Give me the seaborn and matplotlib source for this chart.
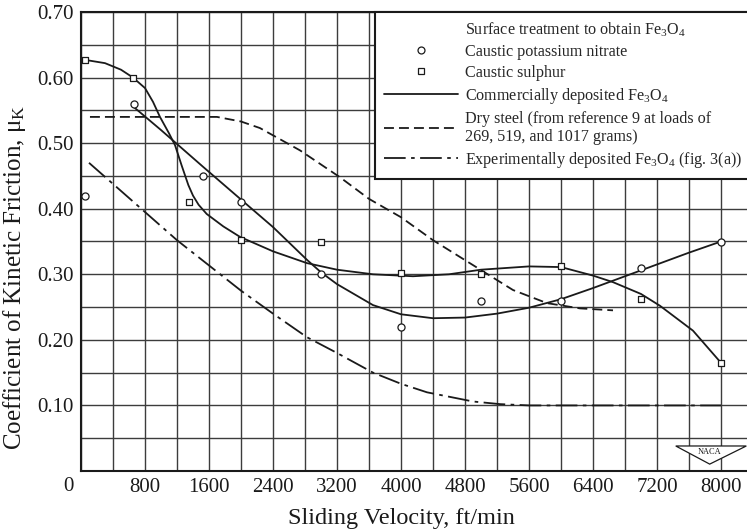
import numpy as np
import pandas as pd
import matplotlib
matplotlib.use("Agg")
import matplotlib.pyplot as plt
import seaborn as sns
from matplotlib.lines import Line2D
from matplotlib.patches import Polygon

# ---------------- data ----------------
kno3_x = [50, 660, 1525, 2000, 3000, 4000, 5000, 6000, 7000, 8000]
kno3_y = [0.42, 0.56, 0.45, 0.41, 0.30, 0.22, 0.26, 0.26, 0.31, 0.35]

sulph_x = [50, 650, 1350, 2000, 3000, 4000, 5000, 6000, 7000, 8000]
sulph_y = [0.627, 0.60, 0.41, 0.352, 0.35, 0.302, 0.30, 0.313, 0.262, 0.165]

# commercially deposited curve through circles
curve_a_x = [660, 1000, 1525, 2000, 2400, 2825, 3000, 3200, 3650, 4000, 4400,
             4800, 5200, 5600, 6000, 6400, 6800, 7200, 7600, 8000]
curve_a_y = [0.555, 0.52, 0.464, 0.414, 0.372, 0.322, 0.303, 0.285, 0.253, 0.239,
             0.233, 0.234, 0.240, 0.249, 0.262, 0.279, 0.297, 0.315, 0.333, 0.35]

# commercially deposited curve through squares
curve_b_x = [50, 300, 500, 650, 800, 900, 987, 1100, 1175, 1258, 1342, 1400, 1470,
             1571, 1779, 1988, 2400, 2825, 3200, 3650, 4150, 4600, 5000, 5600, 6000,
             6400, 6650, 7000, 7237, 7650, 8000]
curve_b_y = [0.627, 0.622, 0.612, 0.60, 0.584, 0.563, 0.54, 0.515, 0.497, 0.466,
             0.436, 0.420, 0.406, 0.392, 0.373, 0.357, 0.335, 0.317, 0.307, 0.30,
             0.297, 0.30, 0.307, 0.312, 0.311, 0.298, 0.288, 0.27, 0.252, 0.214, 0.165]

# dry steel
dry_x = [112, 800, 1200, 1700, 2000, 2237, 2737, 3237, 3600, 4000, 4400, 4900,
         5400, 5825, 6237, 6650]
dry_y = [0.54, 0.54, 0.54, 0.54, 0.533, 0.523, 0.489, 0.448, 0.415, 0.387, 0.352,
         0.314, 0.276, 0.256, 0.248, 0.245]

# experimentally deposited
exp_x = [100, 1200, 2000, 2400, 2825, 3200, 3650, 4000, 4325, 4900, 5237, 5600, 8000]
exp_y = [0.47, 0.352, 0.275, 0.24, 0.204, 0.18, 0.15, 0.133, 0.12, 0.106, 0.102,
         0.10, 0.10]

x_ticks = [0, 800, 1600, 2400, 3200, 4000, 4800, 5600, 6400, 7200, 8000]
y_ticks = [0.10, 0.20, 0.30, 0.40, 0.50, 0.60, 0.70]

# ---------------- style ----------------
sns.set_theme(style="white")
plt.rcParams["font.family"] = ["Liberation Serif", "DejaVu Serif"]
plt.rcParams["mathtext.fontset"] = "custom"
plt.rcParams["mathtext.rm"] = "Liberation Serif"
plt.rcParams["mathtext.it"] = "Liberation Serif:italic"
plt.rcParams["mathtext.default"] = "rm"

INK = "#1a1a1a"
GRID = "#3c3c3c"

fig = plt.figure(figsize=(7.47, 5.31), dpi=100)
ax = fig.add_axes([81 / 747, 60 / 531, 666 / 747, 459 / 531])

lw = 1.3
sns.lineplot(x=curve_a_x, y=curve_a_y, ax=ax, color=INK, lw=lw, estimator=None, zorder=3)
sns.lineplot(x=curve_b_x, y=curve_b_y, ax=ax, color=INK, lw=lw, estimator=None, zorder=3)
sns.lineplot(x=dry_x, y=dry_y, ax=ax, color=INK, lw=lw, estimator=None,
             linestyle=(0, (5.5, 2.8)), zorder=3)
sns.lineplot(x=exp_x, y=exp_y, ax=ax, color=INK, lw=lw, estimator=None,
             linestyle=(0, (12, 3, 2, 3)), zorder=3)

sns.scatterplot(x=kno3_x, y=kno3_y, ax=ax, marker="o", s=26, facecolor="white",
                edgecolor=INK, linewidth=0.9, zorder=4)
sns.scatterplot(x=sulph_x, y=sulph_y, ax=ax, marker="s", s=22, facecolor="white",
                edgecolor=INK, linewidth=0.9, zorder=4)

ax.set_xlim(0, 8325)
ax.set_ylim(0, 0.70)
ax.set_xticks(x_ticks)
ax.set_xticklabels([""] + [str(v) for v in x_ticks[1:]])
ax.set_xticks(np.arange(0, 8001, 400), minor=True)
ax.set_yticks(y_ticks)
ax.set_yticklabels([f"{v:.2f}" for v in y_ticks])
ax.set_yticks(np.arange(0.05, 0.70, 0.05), minor=True)
ax.grid(which="both", color=GRID, lw=1.0, zorder=0)
ax.set_axisbelow(True)
ax.tick_params(axis="both", which="both", length=0, labelsize=15, colors=INK)
ax.tick_params(axis="x", pad=5.0)
ax.tick_params(axis="y", pad=5.5)

for s in ["left", "bottom", "top"]:
    ax.spines[s].set_color(INK)
    ax.spines[s].set_linewidth(1.5)
ax.spines["right"].set_visible(False)

# the "0" label sits left of the axis in the reference
ax.text(-0.0195, -0.0125, "0", transform=ax.transAxes, ha="center", va="top",
        fontsize=15, color=INK)

ax.set_xlabel("Sliding Velocity, ft/min", fontsize=17.5, color=INK)
ax.xaxis.set_label_coords(0.4805, -0.080)
ax.set_ylabel("Coefficient of Kinetic Friction, μ$_\\mathrm{K}$", fontsize=18, color=INK)
ax.yaxis.set_label_coords(-0.080, 0.4227)

# legend
handles = [
    Line2D([], [], linestyle="none"),
    Line2D([], [], linestyle="none", marker="o", markersize=5, markerfacecolor="white",
           markeredgecolor=INK, markeredgewidth=0.9),
    Line2D([], [], linestyle="none", marker="s", markersize=4.6, markerfacecolor="white",
           markeredgecolor=INK, markeredgewidth=0.9),
    Line2D([], [], color=INK, lw=lw),
    Line2D([], [], color=INK, lw=lw, linestyle=(0, (5.5, 2.8))),
    Line2D([], [], color=INK, lw=lw, linestyle=(0, (12, 3, 2, 3))),
]
labels = [
    "Surface treatment to obtain Fe$_3$O$_4$",
    "Caustic potassium nitrate",
    "Caustic sulphur",
    "Commercially deposited Fe$_3$O$_4$",
    "Dry steel (from reference 9 at loads of\n269, 519, and 1017 grams)",
    "Experimentally deposited Fe$_3$O$_4$ (fig. 3(a))",
]
leg = ax.legend(handles, labels, loc="upper left",
                bbox_to_anchor=((375 - 81) / 666, 1.0), borderaxespad=0,
                fontsize=11.6, handlelength=4.6, handletextpad=0.45,
                borderpad=0.55, labelspacing=0.3, frameon=True, fancybox=False,
                framealpha=1, edgecolor=INK)
leg.get_frame().set_linewidth(1.5)
leg.set_zorder(6)

# NACA badge
badge = Polygon([[0.893, 0.0545], [0.999, 0.0545], [0.944, 0.015]], closed=True,
                transform=ax.transAxes, facecolor="white", edgecolor=INK, lw=0.9,
                zorder=5, clip_on=False)
ax.add_patch(badge)
ax.text(0.944, 0.041, "NACA", transform=ax.transAxes, ha="center", va="center",
        fontsize=6, color=INK, zorder=6)

fig.savefig("out.png", dpi=100)
